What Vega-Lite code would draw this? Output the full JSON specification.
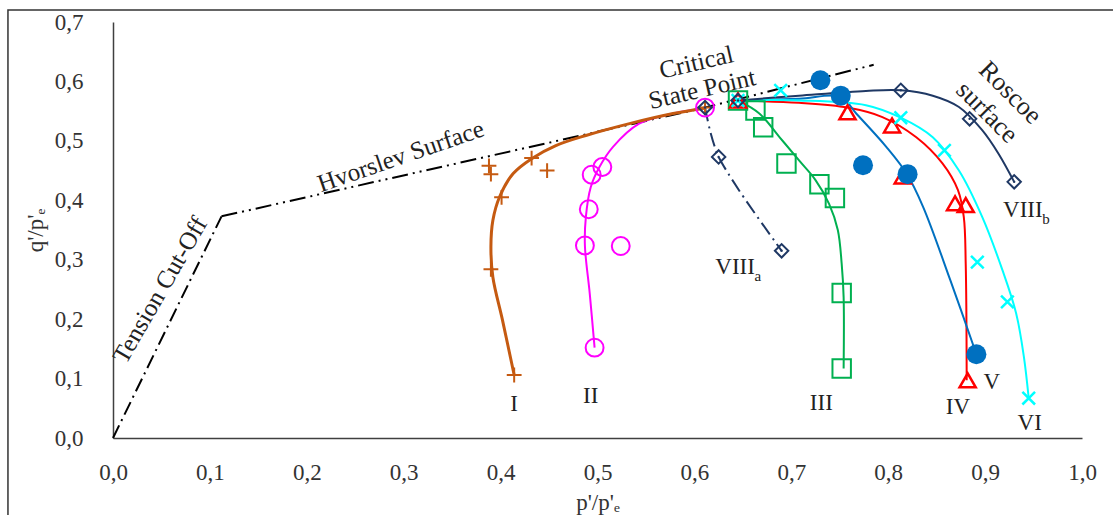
{
  "$schema": "https://vega.github.io/schema/vega-lite/v6.json",
  "width": 969,
  "height": 416,
  "autosize": "none",
  "padding": {"left": 113, "top": 22, "right": 31, "bottom": 77},
  "background": "white",
  "config": {
    "view": {"stroke": null},
    "font": "Liberation Serif"
  },
  "datasets": {
    "surface": [
      {"part": "tension", "ord": 1, "x": 0.0, "y": 0.0},
      {"part": "tension", "ord": 2, "x": 0.112, "y": 0.373},
      {"part": "hvorslev", "ord": 1, "x": 0.112, "y": 0.373},
      {"part": "hvorslev", "ord": 2, "x": 0.611, "y": 0.556},
      {"part": "hvorslev", "ord": 3, "x": 0.785, "y": 0.628}
    ],
    "curves": [
      {"series": "I", "ord": 1, "x": 0.414, "y": 0.106},
      {"series": "I", "ord": 2, "x": 0.402, "y": 0.198},
      {"series": "I", "ord": 3, "x": 0.392, "y": 0.271},
      {"series": "I", "ord": 4, "x": 0.390, "y": 0.322},
      {"series": "I", "ord": 5, "x": 0.392, "y": 0.366},
      {"series": "I", "ord": 6, "x": 0.399, "y": 0.406},
      {"series": "I", "ord": 7, "x": 0.413, "y": 0.445},
      {"series": "I", "ord": 8, "x": 0.432, "y": 0.470},
      {"series": "I", "ord": 9, "x": 0.457, "y": 0.492},
      {"series": "I", "ord": 10, "x": 0.488, "y": 0.509},
      {"series": "I", "ord": 11, "x": 0.533, "y": 0.529},
      {"series": "I", "ord": 12, "x": 0.578, "y": 0.546},
      {"series": "I", "ord": 13, "x": 0.610, "y": 0.555},
      {"series": "II", "ord": 1, "x": 0.497, "y": 0.152},
      {"series": "II", "ord": 2, "x": 0.492, "y": 0.243},
      {"series": "II", "ord": 3, "x": 0.487, "y": 0.324},
      {"series": "II", "ord": 4, "x": 0.488, "y": 0.372},
      {"series": "II", "ord": 5, "x": 0.493, "y": 0.422},
      {"series": "II", "ord": 6, "x": 0.502, "y": 0.456},
      {"series": "II", "ord": 7, "x": 0.516, "y": 0.490},
      {"series": "II", "ord": 8, "x": 0.543, "y": 0.529},
      {"series": "II", "ord": 9, "x": 0.578, "y": 0.546},
      {"series": "II", "ord": 10, "x": 0.610, "y": 0.555},
      {"series": "III", "ord": 1, "x": 0.645, "y": 0.568},
      {"series": "III", "ord": 2, "x": 0.667, "y": 0.546},
      {"series": "III", "ord": 3, "x": 0.688, "y": 0.506},
      {"series": "III", "ord": 4, "x": 0.708, "y": 0.467},
      {"series": "III", "ord": 5, "x": 0.725, "y": 0.434},
      {"series": "III", "ord": 6, "x": 0.739, "y": 0.394},
      {"series": "III", "ord": 7, "x": 0.748, "y": 0.350},
      {"series": "III", "ord": 8, "x": 0.752, "y": 0.293},
      {"series": "III", "ord": 9, "x": 0.754, "y": 0.237},
      {"series": "III", "ord": 10, "x": 0.754, "y": 0.117},
      {"series": "IV", "ord": 1, "x": 0.645, "y": 0.568},
      {"series": "IV", "ord": 2, "x": 0.708, "y": 0.564},
      {"series": "IV", "ord": 3, "x": 0.758, "y": 0.556},
      {"series": "IV", "ord": 4, "x": 0.794, "y": 0.540},
      {"series": "IV", "ord": 5, "x": 0.829, "y": 0.506},
      {"series": "IV", "ord": 6, "x": 0.856, "y": 0.462},
      {"series": "IV", "ord": 7, "x": 0.872, "y": 0.417},
      {"series": "IV", "ord": 8, "x": 0.878, "y": 0.372},
      {"series": "IV", "ord": 9, "x": 0.880, "y": 0.293},
      {"series": "IV", "ord": 10, "x": 0.881, "y": 0.097},
      {"series": "V", "ord": 1, "x": 0.645, "y": 0.568},
      {"series": "V", "ord": 2, "x": 0.708, "y": 0.571},
      {"series": "V", "ord": 3, "x": 0.751, "y": 0.574},
      {"series": "V", "ord": 4, "x": 0.767, "y": 0.546},
      {"series": "V", "ord": 5, "x": 0.798, "y": 0.490},
      {"series": "V", "ord": 6, "x": 0.819, "y": 0.445},
      {"series": "V", "ord": 7, "x": 0.836, "y": 0.389},
      {"series": "V", "ord": 8, "x": 0.864, "y": 0.266},
      {"series": "V", "ord": 9, "x": 0.891, "y": 0.141},
      {"series": "VI", "ord": 1, "x": 0.645, "y": 0.568},
      {"series": "VI", "ord": 2, "x": 0.708, "y": 0.568},
      {"series": "VI", "ord": 3, "x": 0.777, "y": 0.560},
      {"series": "VI", "ord": 4, "x": 0.813, "y": 0.539},
      {"series": "VI", "ord": 5, "x": 0.846, "y": 0.506},
      {"series": "VI", "ord": 6, "x": 0.873, "y": 0.450},
      {"series": "VI", "ord": 7, "x": 0.897, "y": 0.372},
      {"series": "VI", "ord": 8, "x": 0.918, "y": 0.282},
      {"series": "VI", "ord": 9, "x": 0.932, "y": 0.210},
      {"series": "VI", "ord": 10, "x": 0.940, "y": 0.137},
      {"series": "VI", "ord": 11, "x": 0.945, "y": 0.067},
      {"series": "VIIIb", "ord": 1, "x": 0.645, "y": 0.568},
      {"series": "VIIIb", "ord": 2, "x": 0.708, "y": 0.576},
      {"series": "VIIIb", "ord": 3, "x": 0.777, "y": 0.584},
      {"series": "VIIIb", "ord": 4, "x": 0.813, "y": 0.585},
      {"series": "VIIIb", "ord": 5, "x": 0.846, "y": 0.576},
      {"series": "VIIIb", "ord": 6, "x": 0.873, "y": 0.557},
      {"series": "VIIIb", "ord": 7, "x": 0.897, "y": 0.518},
      {"series": "VIIIb", "ord": 8, "x": 0.914, "y": 0.478},
      {"series": "VIIIb", "ord": 9, "x": 0.930, "y": 0.431},
      {"series": "VIIIa", "ord": 1, "x": 0.611, "y": 0.556},
      {"series": "VIIIa", "ord": 2, "x": 0.616, "y": 0.518},
      {"series": "VIIIa", "ord": 3, "x": 0.621, "y": 0.490},
      {"series": "VIIIa", "ord": 4, "x": 0.625, "y": 0.473},
      {"series": "VIIIa", "ord": 5, "x": 0.646, "y": 0.417},
      {"series": "VIIIa", "ord": 6, "x": 0.690, "y": 0.315}
    ],
    "points": [
      {"series": "I", "x": 0.414, "y": 0.106},
      {"series": "I", "x": 0.390, "y": 0.284},
      {"series": "I", "x": 0.401, "y": 0.405},
      {"series": "I", "x": 0.432, "y": 0.471},
      {"series": "I", "x": 0.448, "y": 0.450},
      {"series": "I", "x": 0.388, "y": 0.458},
      {"series": "I", "x": 0.390, "y": 0.444},
      {"series": "I", "x": 0.611, "y": 0.556},
      {"series": "II", "x": 0.497, "y": 0.152},
      {"series": "II", "x": 0.487, "y": 0.324},
      {"series": "II", "x": 0.524, "y": 0.323},
      {"series": "II", "x": 0.491, "y": 0.385},
      {"series": "II", "x": 0.494, "y": 0.443},
      {"series": "II", "x": 0.505, "y": 0.456},
      {"series": "II", "x": 0.611, "y": 0.556},
      {"series": "III", "x": 0.645, "y": 0.568},
      {"series": "III", "x": 0.663, "y": 0.551},
      {"series": "III", "x": 0.671, "y": 0.523},
      {"series": "III", "x": 0.695, "y": 0.462},
      {"series": "III", "x": 0.729, "y": 0.427},
      {"series": "III", "x": 0.745, "y": 0.404},
      {"series": "III", "x": 0.752, "y": 0.244},
      {"series": "III", "x": 0.752, "y": 0.117},
      {"series": "IV", "x": 0.645, "y": 0.568},
      {"series": "IV", "x": 0.758, "y": 0.548},
      {"series": "IV", "x": 0.804, "y": 0.526},
      {"series": "IV", "x": 0.815, "y": 0.440},
      {"series": "IV", "x": 0.869, "y": 0.395},
      {"series": "IV", "x": 0.880, "y": 0.392},
      {"series": "IV", "x": 0.882, "y": 0.097},
      {"series": "V", "x": 0.730, "y": 0.602},
      {"series": "V", "x": 0.751, "y": 0.576},
      {"series": "V", "x": 0.774, "y": 0.459},
      {"series": "V", "x": 0.820, "y": 0.444},
      {"series": "V", "x": 0.891, "y": 0.141},
      {"series": "VI", "x": 0.645, "y": 0.568},
      {"series": "VI", "x": 0.689, "y": 0.585},
      {"series": "VI", "x": 0.813, "y": 0.539},
      {"series": "VI", "x": 0.858, "y": 0.484},
      {"series": "VI", "x": 0.892, "y": 0.296},
      {"series": "VI", "x": 0.923, "y": 0.229},
      {"series": "VI", "x": 0.945, "y": 0.067},
      {"series": "VIII", "x": 0.611, "y": 0.556},
      {"series": "VIII", "x": 0.625, "y": 0.473},
      {"series": "VIII", "x": 0.690, "y": 0.315},
      {"series": "VIII", "x": 0.645, "y": 0.568},
      {"series": "VIII", "x": 0.813, "y": 0.585},
      {"series": "VIII", "x": 0.884, "y": 0.537},
      {"series": "VIII", "x": 0.930, "y": 0.431}
    ],
    "labels": [
      {"text": "I", "x": 0.414, "y": 0.058},
      {"text": "II", "x": 0.493, "y": 0.071},
      {"text": "III", "x": 0.731, "y": 0.059},
      {"text": "IV", "x": 0.872, "y": 0.053},
      {"text": "V", "x": 0.907, "y": 0.095},
      {"text": "VI", "x": 0.946, "y": 0.025},
      {"text": "VIII", "x": 0.642, "y": 0.287},
      {"text": "VIII", "x": 0.939, "y": 0.384}
    ],
    "subs": [
      {"text": "a", "x": 0.662, "y": 0.272},
      {"text": "b", "x": 0.959, "y": 0.369}
    ],
    "notes": [
      {"text": "Hvorslev Surface", "x": 0.297, "y": 0.474},
      {"text": "Tension Cut-Off", "x": 0.0485, "y": 0.249},
      {"text": "Critical", "x": 0.602, "y": 0.632},
      {"text": "State Point", "x": 0.608, "y": 0.587},
      {"text": "Roscoe", "x": 0.926, "y": 0.581},
      {"text": "surface", "x": 0.902, "y": 0.548}
    ]
  },
  "layer": [
    {
      "data": {"name": "surface"},
      "transform": [{"filter": "datum.part == 'tension'"}],
      "mark": {"type": "line", "color": "#000000", "strokeWidth": 2, "strokeDash": [14, 5, 2, 5]},
      "encoding": {
        "x": {"field": "x", "type": "quantitative", "scale": {"domain": [0, 1], "nice": false},
          "axis": {"values": [0, 0.1, 0.2, 0.3, 0.4, 0.5, 0.6, 0.7, 0.8, 0.9, 1.0], "labelExpr": "replace(format(datum.value, '.1f'), '.', ',')",
            "grid": false, "ticks": false, "domainColor": "#404040", "domainWidth": 1.5, "labelFlush": false, "labelOverlap": false,
            "labelFont": "Liberation Serif", "labelFontSize": 23, "labelColor": "#333333", "labelPadding": 23,
            "title": "p'/p'ₑ", "titleFont": "Liberation Serif", "titleFontSize": 23, "titleFontWeight": "normal", "titleColor": "#333333", "titlePadding": 7}},
        "y": {"field": "y", "type": "quantitative", "scale": {"domain": [0, 0.7], "nice": false},
          "axis": {"values": [0, 0.1, 0.2, 0.3, 0.4, 0.5, 0.6, 0.7], "labelExpr": "replace(format(datum.value, '.1f'), '.', ',')",
            "grid": false, "ticks": false, "domainColor": "#404040", "domainWidth": 1.5, "labelFlush": false, "labelOverlap": false,
            "labelFont": "Liberation Serif", "labelFontSize": 23, "labelColor": "#333333", "labelPadding": 30,
            "title": "q'/p'ₑ", "titleFont": "Liberation Serif", "titleFontSize": 23, "titleFontWeight": "normal", "titleColor": "#333333", "titlePadding": 7}},
        "order": {"field": "ord"}
      }
    },
    {
      "data": {"name": "surface"},
      "transform": [{"filter": "datum.part == 'hvorslev'"}],
      "mark": {"type": "line", "color": "#000000", "strokeWidth": 2, "strokeDash": [16, 5, 2, 5, 2, 5]},
      "encoding": {
        "x": {"field": "x", "type": "quantitative"},
        "y": {"field": "y", "type": "quantitative"},
        "order": {"field": "ord"}
      }
    },
    {
      "data": {"name": "curves"},
      "transform": [{"filter": "datum.series != 'I' && datum.series != 'VIIIa'"}],
      "mark": {"type": "line", "strokeWidth": 2, "interpolate": "catmull-rom"},
      "encoding": {
        "x": {"field": "x", "type": "quantitative"},
        "y": {"field": "y", "type": "quantitative"},
        "order": {"field": "ord"},
        "color": {"field": "series", "type": "nominal", "legend": null,
          "scale": {"domain": ["II", "III", "IV", "V", "VI", "VIIIb"], "range": ["#FF00FF", "#00B050", "#FF0000", "#0070C0", "#00FFFF", "#1F3864"]}}
      }
    },
    {
      "data": {"name": "curves"},
      "transform": [{"filter": "datum.series == 'I'"}],
      "mark": {"type": "line", "strokeWidth": 3, "color": "#C55A11", "interpolate": "catmull-rom"},
      "encoding": {
        "x": {"field": "x", "type": "quantitative"},
        "y": {"field": "y", "type": "quantitative"},
        "order": {"field": "ord"}
      }
    },
    {
      "data": {"name": "curves"},
      "transform": [{"filter": "datum.series == 'VIIIa'"}],
      "mark": {"type": "line", "strokeWidth": 2, "color": "#1F3864", "strokeDash": [14, 5, 2, 5], "interpolate": "catmull-rom"},
      "encoding": {
        "x": {"field": "x", "type": "quantitative"},
        "y": {"field": "y", "type": "quantitative"},
        "order": {"field": "ord"}
      }
    },
    {
      "data": {"name": "points"},
      "transform": [{"filter": "datum.series == 'I'"}],
      "mark": {"type": "point", "shape": "M-1,0L1,0M0,-1L0,1", "stroke": "#C55A11", "strokeWidth": 2, "size": 220, "filled": false, "opacity": 1},
      "encoding": {"x": {"field": "x", "type": "quantitative"}, "y": {"field": "y", "type": "quantitative"}}
    },
    {
      "data": {"name": "points"},
      "transform": [{"filter": "datum.series == 'II'"}],
      "mark": {"type": "point", "shape": "circle", "stroke": "#FF00FF", "strokeWidth": 2, "size": 320, "filled": false, "opacity": 1},
      "encoding": {"x": {"field": "x", "type": "quantitative"}, "y": {"field": "y", "type": "quantitative"}}
    },
    {
      "data": {"name": "points"},
      "transform": [{"filter": "datum.series == 'III'"}],
      "mark": {"type": "point", "shape": "square", "stroke": "#00B050", "strokeWidth": 2, "size": 340, "filled": false, "opacity": 1},
      "encoding": {"x": {"field": "x", "type": "quantitative"}, "y": {"field": "y", "type": "quantitative"}}
    },
    {
      "data": {"name": "points"},
      "transform": [{"filter": "datum.series == 'IV'"}],
      "mark": {"type": "point", "shape": "triangle-up", "stroke": "#FF0000", "strokeWidth": 2.5, "size": 260, "filled": false, "opacity": 1},
      "encoding": {"x": {"field": "x", "type": "quantitative"}, "y": {"field": "y", "type": "quantitative"}}
    },
    {
      "data": {"name": "points"},
      "transform": [{"filter": "datum.series == 'V'"}],
      "mark": {"type": "point", "shape": "circle", "fill": "#0070C0", "strokeWidth": 0, "size": 400, "filled": true, "opacity": 1},
      "encoding": {"x": {"field": "x", "type": "quantitative"}, "y": {"field": "y", "type": "quantitative"}}
    },
    {
      "data": {"name": "points"},
      "transform": [{"filter": "datum.series == 'VI'"}],
      "mark": {"type": "point", "shape": "M-1,-1L1,1M1,-1L-1,1", "stroke": "#00FFFF", "strokeWidth": 2.5, "size": 160, "filled": false, "opacity": 1},
      "encoding": {"x": {"field": "x", "type": "quantitative"}, "y": {"field": "y", "type": "quantitative"}}
    },
    {
      "data": {"name": "points"},
      "transform": [{"filter": "datum.series == 'VIII'"}],
      "mark": {"type": "point", "shape": "diamond", "stroke": "#1F3864", "strokeWidth": 2, "size": 180, "filled": false, "opacity": 1},
      "encoding": {"x": {"field": "x", "type": "quantitative"}, "y": {"field": "y", "type": "quantitative"}}
    },
    {
      "data": {"name": "points"},
      "transform": [{"filter": "datum.series == 'VIII'"}],
      "mark": {"type": "point", "shape": "circle", "fill": "#1F3864", "strokeWidth": 0, "size": 6, "filled": true, "opacity": 1},
      "encoding": {"x": {"field": "x", "type": "quantitative"}, "y": {"field": "y", "type": "quantitative"}}
    },
    {
      "data": {"name": "labels"},
      "mark": {"type": "text", "fontSize": 23, "fill": "#222222", "align": "center", "baseline": "middle"},
      "encoding": {"x": {"field": "x", "type": "quantitative"}, "y": {"field": "y", "type": "quantitative"}, "text": {"field": "text"}}
    },
    {
      "data": {"name": "subs"},
      "mark": {"type": "text", "fontSize": 15, "fill": "#222222", "align": "left", "baseline": "middle"},
      "encoding": {"x": {"field": "x", "type": "quantitative"}, "y": {"field": "y", "type": "quantitative"}, "text": {"field": "text"}}
    },
    {
      "data": {"name": "notes"},
      "transform": [{"filter": "datum.text == 'Hvorslev Surface'"}],
      "mark": {"type": "text", "fontSize": 25, "fill": "#222222", "angle": -19, "align": "center", "baseline": "middle"},
      "encoding": {"x": {"field": "x", "type": "quantitative"}, "y": {"field": "y", "type": "quantitative"}, "text": {"field": "text"}}
    },
    {
      "data": {"name": "notes"},
      "transform": [{"filter": "datum.text == 'Tension Cut-Off'"}],
      "mark": {"type": "text", "fontSize": 25, "fill": "#222222", "angle": -60, "align": "center", "baseline": "middle"},
      "encoding": {"x": {"field": "x", "type": "quantitative"}, "y": {"field": "y", "type": "quantitative"}, "text": {"field": "text"}}
    },
    {
      "data": {"name": "notes"},
      "transform": [{"filter": "datum.text == 'Critical' || datum.text == 'State Point'"}],
      "mark": {"type": "text", "fontSize": 25, "fill": "#222222", "angle": -13, "align": "center", "baseline": "middle"},
      "encoding": {"x": {"field": "x", "type": "quantitative"}, "y": {"field": "y", "type": "quantitative"}, "text": {"field": "text"}}
    },
    {
      "data": {"name": "notes"},
      "transform": [{"filter": "datum.text == 'Roscoe' || datum.text == 'surface'"}],
      "mark": {"type": "text", "fontSize": 26, "fill": "#222222", "angle": 45, "align": "center", "baseline": "middle"},
      "encoding": {"x": {"field": "x", "type": "quantitative"}, "y": {"field": "y", "type": "quantitative"}, "text": {"field": "text"}}
    },
    {
      "data": {"values": [{}]},
      "mark": {"type": "rect", "fill": null, "stroke": "#333333", "strokeWidth": 1.5, "clip": false},
      "encoding": {
        "x": {"datum": -0.1084, "type": "quantitative"},
        "x2": {"datum": 1.3},
        "y": {"datum": 0.72, "type": "quantitative"},
        "y2": {"datum": -0.4}
      }
    }
  ]
}
